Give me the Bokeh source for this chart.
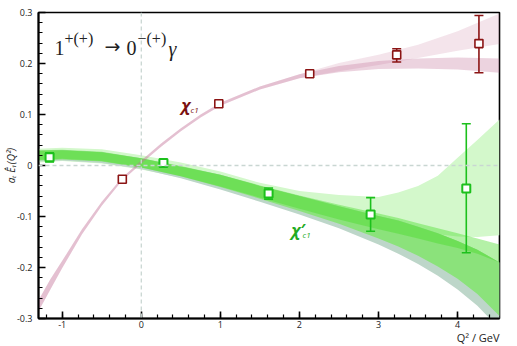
from bokeh.plotting import figure
from bokeh.models import Range1d, Span, Label, FixedTicker, Title
from bokeh.embed import file_html
from bokeh.resources import INLINE

# ---------------- data ----------------
# chi_c1 lattice points
red_q2 = [-0.24, 0.98, 2.13, 3.23, 4.27]
red_val = [-0.027, 0.121, 0.180, 0.217, 0.239]
red_lo = [-0.027, 0.121, 0.180, 0.203, 0.182]
red_hi = [-0.027, 0.121, 0.180, 0.229, 0.294]

# chi_c1' lattice points
grn_q2 = [-1.16, 0.28, 1.61, 2.90, 4.11]
grn_val = [0.016, 0.005, -0.055, -0.096, -0.045]
grn_lo = [0.007, 0.001, -0.066, -0.129, -0.171]
grn_hi = [0.025, 0.009, -0.044, -0.063, 0.082]

# chi_c1 bands
pk_x = [-1.3, -1.15, -1.0, -0.75, -0.5, -0.25, 0.0, 0.25, 0.5, 0.75, 1.0, 1.5, 2.0, 2.5, 3.0, 3.5, 4.0, 4.53]
pk1_lo = [-0.286, -0.243, -0.201, -0.135, -0.079, -0.031, 0.004, 0.037, 0.067, 0.094, 0.117, 0.149, 0.171, 0.183, 0.189, 0.190, 0.188, 0.182]
pk1_hi = [-0.264, -0.223, -0.187, -0.125, -0.071, -0.025, 0.010, 0.043, 0.073, 0.100, 0.123, 0.155, 0.179, 0.195, 0.205, 0.210, 0.212, 0.210]
pk2_lo = [-0.286, -0.243, -0.201, -0.135, -0.079, -0.031, 0.004, 0.037, 0.067, 0.094, 0.117, 0.149, 0.171, 0.185, 0.197, 0.211, 0.225, 0.238]
pk2_hi = [-0.264, -0.223, -0.187, -0.125, -0.071, -0.025, 0.010, 0.043, 0.073, 0.100, 0.123, 0.155, 0.179, 0.201, 0.217, 0.237, 0.263, 0.298]

# chi_c1' bands
gn_x = [-1.3, -1.0, -0.5, 0.0, 0.5, 1.0, 1.5, 2.0, 2.5, 3.0, 3.25, 3.5, 3.75, 4.0, 4.25, 4.53]
gA_lo = [0.006, 0.009, 0.004, -0.008, -0.024, -0.045, -0.068, -0.090, -0.108, -0.120, -0.125, -0.130, -0.135, -0.139, -0.140, -0.137]
gA_hi = [0.033, 0.035, 0.032, 0.020, 0.006, -0.012, -0.034, -0.050, -0.058, -0.062, -0.053, -0.040, -0.020, 0.015, 0.050, 0.090]
gB_lo = [0.011, 0.013, 0.009, -0.004, -0.021, -0.041, -0.063, -0.085, -0.106, -0.125, -0.134, -0.143, -0.153, -0.162, -0.173, -0.190]
gB_hi = [0.030, 0.031, 0.027, 0.014, -0.001, -0.018, -0.039, -0.059, -0.077, -0.094, -0.103, -0.113, -0.123, -0.133, -0.143, -0.155]
gD_lo = [0.010, 0.012, 0.008, -0.004, -0.021, -0.042, -0.065, -0.089, -0.114, -0.143, -0.159, -0.177, -0.198, -0.222, -0.252, -0.295]
gD_hi = [0.029, 0.030, 0.026, 0.014, -0.002, -0.018, -0.040, -0.060, -0.080, -0.099, -0.108, -0.120, -0.133, -0.148, -0.165, -0.190]
gE_lo = [0.008, 0.010, 0.005, -0.007, -0.025, -0.047, -0.071, -0.096, -0.123, -0.155, -0.173, -0.193, -0.216, -0.243, -0.275, -0.320]

x_ticks = [-1, 0, 1, 2, 3, 4]
x_tick_labels = ["-1", "0", "1", "2", "3", "4"]
y_ticks = [-0.3, -0.2, -0.1, 0.0, 0.1, 0.2, 0.3]
y_tick_labels = ["-0.3", "-0.2", "-0.1", "0", "0.1", "0.2", "0.3"]

XMIN, XMAX = -1.3, 4.53
YMIN, YMAX = -0.3, 0.3

# ---------------- figure ----------------
p = figure(frame_width=461, frame_height=306,
           x_range=Range1d(XMIN, XMAX), y_range=Range1d(YMIN, YMAX),
           output_backend="svg", toolbar_location=None, title=None,
           min_border_left=38, min_border_right=18, min_border_top=12, min_border_bottom=28,
           background_fill_color="white", border_fill_color="white")
p.xgrid.visible = False
p.ygrid.visible = False
p.outline_line_color = "black"
p.outline_line_width = 1.6

# green bands
p.varea(x=gn_x, y1=gA_lo, y2=gA_hi, fill_color="#d3f8cb")
p.varea(x=gn_x, y1=gE_lo, y2=gD_hi, fill_color="#bdd6c9")
p.varea(x=gn_x, y1=gD_lo, y2=gD_hi, fill_color="#8be27b")
p.varea(x=gn_x, y1=gB_lo, y2=gB_hi, fill_color="#44dd22", fill_alpha=0.4)

# pink bands
p.varea(x=pk_x, y1=pk2_lo, y2=pk2_hi, fill_color="#c8779c", fill_alpha=0.2)
p.varea(x=pk_x, y1=pk1_lo, y2=pk1_hi, fill_color="#c06c94", fill_alpha=0.3)

# dashed zero lines
p.add_layout(Span(location=0, dimension="width", line_color="#c9d6d2",
                  line_width=1.3, line_dash="4 3"))
p.add_layout(Span(location=0, dimension="height", line_color="#c9d6d2",
                  line_width=1.3, line_dash="4 3"))

# error bars (drawn as glyphs so that the markers sit on top)
RED = "#8b1414"
GRN = "#1cc01c"
r_idx = [i for i in range(len(red_q2)) if red_hi[i] > red_lo[i]]
for xs, los, his, col, idx in [(red_q2, red_lo, red_hi, RED, r_idx),
                               (grn_q2, grn_lo, grn_hi, GRN, list(range(len(grn_q2))))]:
    bx = [xs[i] for i in idx]
    bl = [los[i] for i in idx]
    bh = [his[i] for i in idx]
    p.segment(x0=bx, y0=bl, x1=bx, y1=bh, line_color=col, line_width=1.6)
    p.scatter(bx + bx, bl + bh, marker="dash", size=9, line_color=col, line_width=1.6)

p.scatter(red_q2, red_val, marker="square", size=8, fill_color="white",
          line_color=RED, line_width=1.6)
p.scatter(grn_q2, grn_val, marker="square", size=8, fill_color="white",
          line_color=GRN, line_width=2)

# ---------------- axes ----------------
for ax in (p.xaxis[0], p.yaxis[0]):
    ax.axis_line_width = 2
    ax.axis_line_color = "black"
    ax.major_tick_in = 7
    ax.major_tick_out = 0
    ax.minor_tick_in = 4
    ax.minor_tick_out = 0
    ax.major_tick_line_width = 1.6
    ax.minor_tick_line_width = 1.2
    ax.major_label_text_font = "Open Sans"
    ax.major_label_text_font_size = "9px"
    ax.major_label_text_color = "#222222"

p.xaxis.ticker = FixedTicker(ticks=x_ticks,
                             minor_ticks=[i / 5 for i in range(-6, 23)])
p.yaxis.ticker = FixedTicker(ticks=y_ticks,
                             minor_ticks=[i / 50 for i in range(-15, 16)])
p.xaxis.major_label_overrides = dict(zip(x_ticks, x_tick_labels))
p.yaxis.major_label_overrides = dict(zip(y_ticks, y_tick_labels))
p.xaxis.major_label_standoff = 2
p.yaxis.major_label_standoff = 6

p.yaxis.axis_label = "a\u209c \u00ca\u2081(Q\u00b2)"
p.yaxis.axis_label_text_font = "Open Sans"
p.yaxis.axis_label_text_font_style = "italic"
p.yaxis.axis_label_text_font_size = "10px"
p.yaxis.axis_label_text_color = "#222222"
p.yaxis.axis_label_standoff = -4

# x axis title, right-aligned below the axis
p.add_layout(Title(text="Q\u00b2 / GeV", align="right", text_font="Open Sans",
                   text_font_size="11px", text_font_style="normal",
                   text_color="#222222", standoff=-5, offset=0), "below")

# ---------------- texts ----------------
def txt(s, dx, dy, size, font="Liberation Serif", style="normal", color="#222222",
        align="left"):
    # dx, dy: pixel offsets of the text baseline from the top-left frame corner
    p.add_layout(Label(x=XMIN, y=YMAX, x_offset=dx, y_offset=-dy, text=s,
                       text_font=font, text_font_size=f"{size}px", text_font_style=style,
                       text_color=color, text_align=align, text_baseline="alphabetic"))

# title formula 1^{+(+)} -> 0^{-(+)} gamma
txt("1", 16, 35, 20)
txt("+(+)", 26, 26, 16)
txt("\u2192", 66, 33, 19, font="DejaVu Sans")
txt("0", 88, 35, 20)
txt("\u2212(+)", 99, 26, 16)
txt("\u03b3", 130, 36, 20, style="italic")

# curve labels
txt("\u03c7", 143, 92, 16, font="Open Sans", style="bold italic", color="#7a1010")
txt("c1", 152, 97, 8, font="Open Sans", style="italic", color="#7a1010")
txt("\u03c7\u2032", 253, 217, 16, font="Open Sans", style="bold italic", color="#22aa22")
txt("c1", 264, 222, 8, font="Open Sans", style="italic", color="#22aa22")

open("out.html", "w").write(file_html(p, INLINE))
